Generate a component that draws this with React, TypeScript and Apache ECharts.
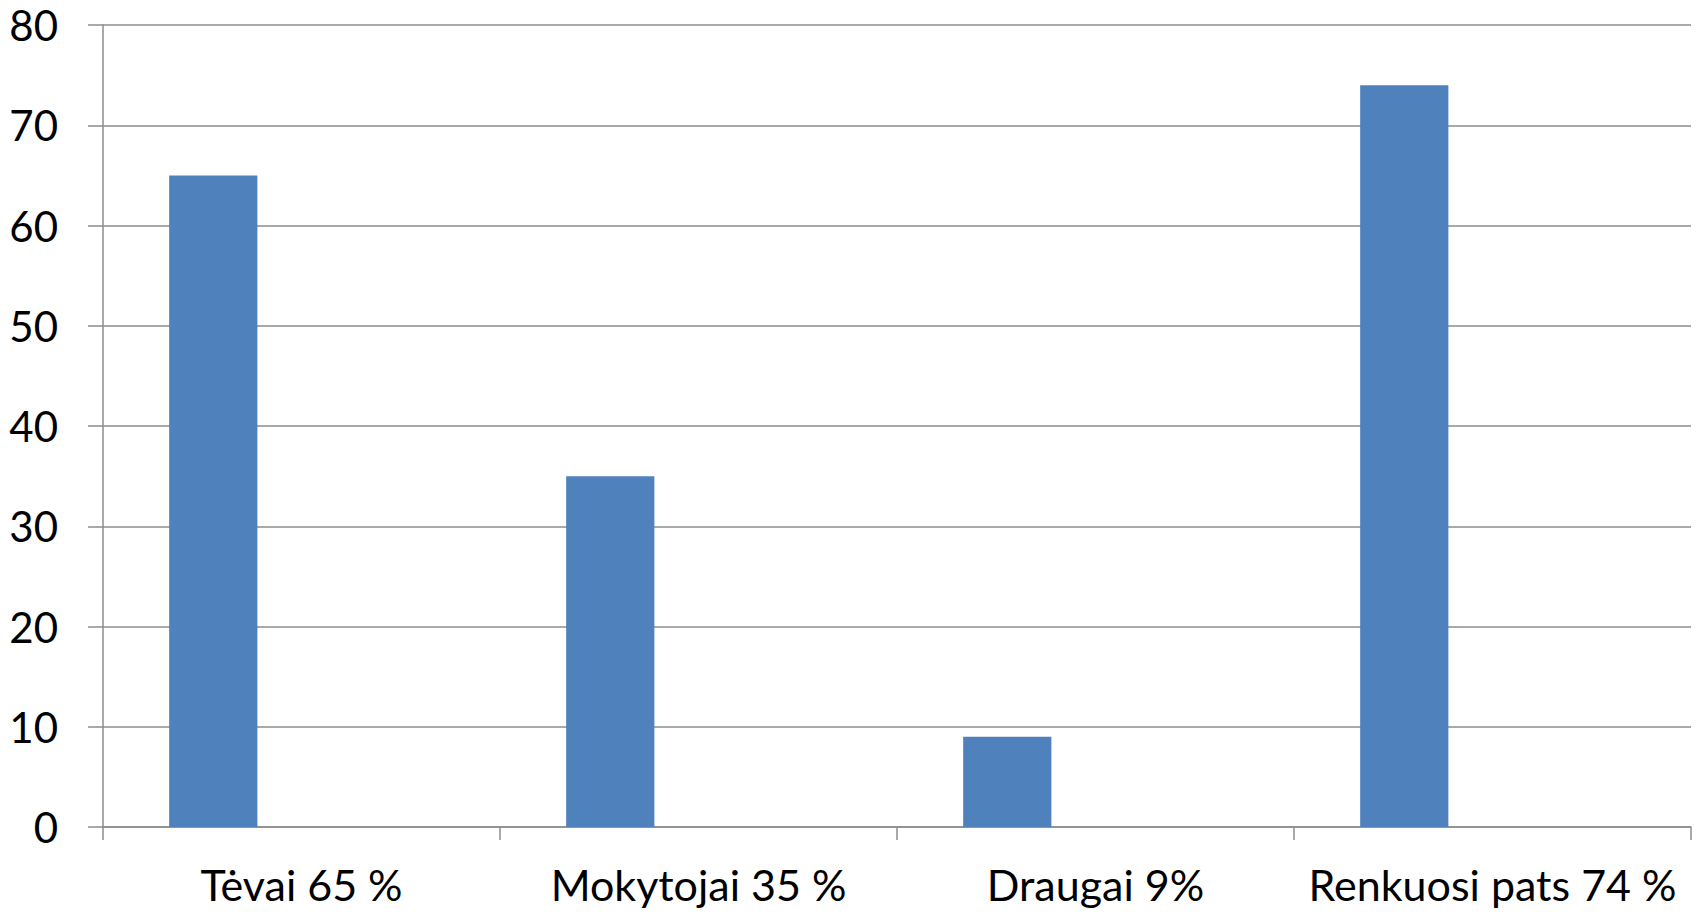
import React, { useEffect, useRef } from "react";
import * as echarts from "echarts";

const categories = ["Tėvai 65 %", "Mokytojai 35 %", "Draugai 9%", "Renkuosi pats 74 %"];
const seriesValues = [65, 35, 9, 74];
const emptySeries2: (number | null)[] = [null, null, null, null];
const emptySeries3: (number | null)[] = [null, null, null, null];
const yMin = 0;
const yMax = 80;
const yInterval = 10;

const FONT = "Lato";
const GRID_COLOR = "#8c8c8c";

export default function App() {
  const ref = useRef<HTMLDivElement>(null);
  useEffect(() => {
    if (!ref.current) return;
    const chart = echarts.init(ref.current, null, { renderer: "svg" });
    chart.setOption({
      animation: false,
      backgroundColor: "#ffffff",
      grid: { left: 103, right: 11, top: 25, bottom: 87, containLabel: false },
      xAxis: {
        type: "category",
        data: categories,
        boundaryGap: true,
        axisLine: { show: true, lineStyle: { color: GRID_COLOR, width: 1.5 } },
        axisTick: { show: true, length: 13, alignWithLabel: false, lineStyle: { color: GRID_COLOR, width: 1.5 } },
        axisLabel: { color: "#000", fontFamily: FONT, fontSize: 43, margin: 36, interval: 0 },
        splitLine: { show: false },
      },
      yAxis: {
        type: "value",
        min: yMin,
        max: yMax,
        interval: yInterval,
        axisLine: { show: true, lineStyle: { color: GRID_COLOR, width: 1.5 } },
        axisTick: { show: true, length: 15, lineStyle: { color: GRID_COLOR, width: 1.5 } },
        axisLabel: { color: "#000", fontFamily: FONT, fontSize: 42, margin: 45 },
        splitLine: { show: true, lineStyle: { color: GRID_COLOR, width: 1.5 } },
      },
      series: [
        { type: "bar", data: seriesValues, barGap: "0%", barCategoryGap: "33.333%", itemStyle: { color: "#4F81BD" } },
        { type: "bar", data: emptySeries2, itemStyle: { color: "#C0504D" } },
        { type: "bar", data: emptySeries3, itemStyle: { color: "#9BBB59" } },
      ],
    });
    return () => chart.dispose();
  }, []);
  return (
    <div
      ref={ref}
      style={{ position: "fixed", left: 0, top: 0, width: 1702, height: 914, background: "#fff" }}
    />
  );
}
